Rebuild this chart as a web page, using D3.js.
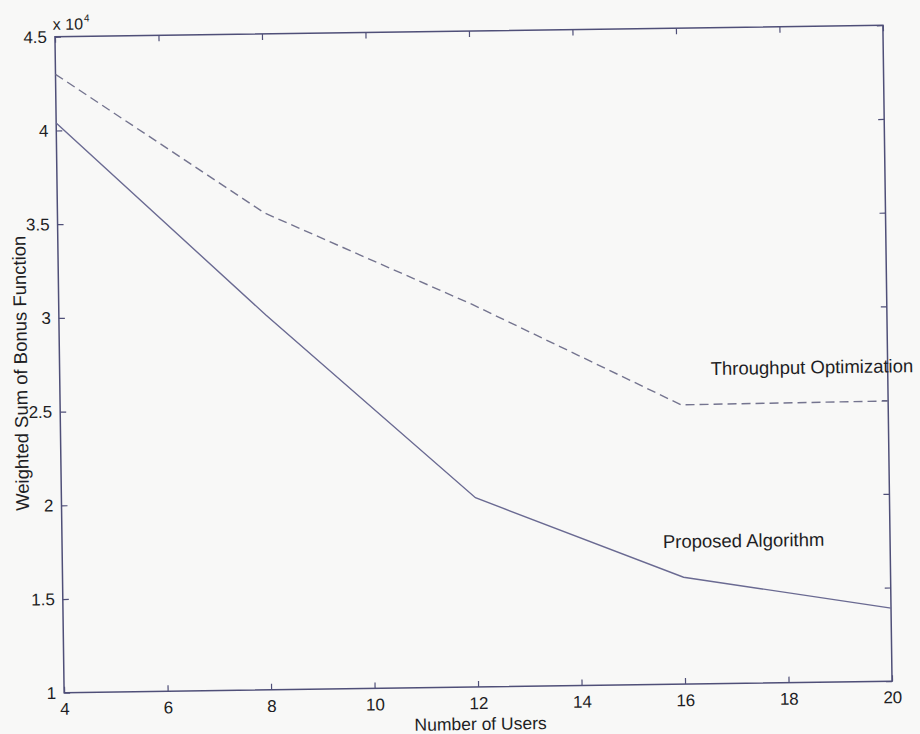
<!DOCTYPE html>
<html>
<head>
<meta charset="utf-8">
<script src="https://cdn.jsdelivr.net/npm/d3@7"></script>
<style>
  html, body { margin: 0; padding: 0; background: #f8f8f7; }
  svg { display: block; }
  text { font-family: "Liberation Sans", Arial, sans-serif; fill: #1e1e24; }
</style>
</head>
<body>
<svg id="chart" width="920" height="734"></svg>
<script>
// ---- data ----
const users = [4, 8, 12, 16, 20];
const proposed = [4.04, 3.00, 2.01, 1.57, 1.39];     // x 10^4
const throughput = [4.30, 3.545, 3.04, 2.49, 2.495]; // x 10^4
const xTicks = [4, 6, 8, 10, 12, 14, 16, 18, 20];
const yTicks = [1, 1.5, 2, 2.5, 3, 3.5, 4, 4.5];
const yTickLabels = ["1", "1.5", "2", "2.5", "3", "3.5", "4", "4.5"];

const W = 920, H = 734;
const M = { left: 59.5, right: 920 - 887.5, top: 31, bottom: 734 - 687 };
const svg = d3.select("#chart");
const root = svg.append("g").attr("transform", "rotate(-0.8, 473.5, 359)");

const x = d3.scaleLinear().domain([4, 20]).range([M.left, W - M.right]);
const y = d3.scaleLinear().domain([1, 4.5]).range([H - M.bottom, M.top]);

const axisColor = "#4f4f78";
const tickLen = 6;

// frame
root.append("rect")
  .attr("x", x(4)).attr("y", y(4.5))
  .attr("width", x(20) - x(4)).attr("height", y(1) - y(4.5))
  .attr("fill", "none").attr("stroke", axisColor).attr("stroke-width", 1.5);

function styleAxis(g) {
  g.select(".domain").remove();
  g.selectAll(".tick line").attr("stroke", axisColor).attr("stroke-width", 1.2);
  g.selectAll(".tick text").attr("font-size", 17)
    .style("font-family", '"Liberation Sans", Arial, sans-serif').attr("fill", "#1e1e24");
}

// bottom axis (ticks inward)
root.append("g").attr("transform", `translate(0,${y(1)})`)
  .call(d3.axisBottom(x).tickValues(xTicks).tickFormat(d3.format("d"))
    .tickSizeInner(-tickLen).tickSizeOuter(0).tickPadding(10))
  .call(styleAxis);
// top axis ticks
root.append("g").attr("transform", `translate(0,${y(4.5)})`)
  .call(d3.axisTop(x).tickValues(xTicks).tickFormat("")
    .tickSizeInner(-tickLen).tickSizeOuter(0))
  .call(styleAxis);
// left axis
root.append("g").attr("transform", `translate(${x(4)},0)`)
  .call(d3.axisLeft(y).tickValues(yTicks).tickFormat((d, i) => yTickLabels[i])
    .tickSizeInner(-tickLen).tickSizeOuter(0).tickPadding(8))
  .call(styleAxis);
// right axis ticks
root.append("g").attr("transform", `translate(${x(20)},0)`)
  .call(d3.axisRight(y).tickValues(yTicks).tickFormat("")
    .tickSizeInner(-tickLen).tickSizeOuter(0))
  .call(styleAxis);

// multiplier
const mult = root.append("text")
  .attr("x", x(4) - 2).attr("y", y(4.5) - 7)
  .attr("font-size", 16);
mult.append("tspan").text("x 10");
mult.append("tspan").attr("font-size", 10).attr("dy", -8).attr("dx", 1).text("4");

// lines
const line = d3.line().x((d, i) => x(users[i])).y(d => y(d));
root.append("path").datum(throughput)
  .attr("d", line).attr("fill", "none")
  .attr("stroke", "#74748f").attr("stroke-width", 1.4)
  .attr("stroke-dasharray", "9,5");
root.append("path").datum(proposed)
  .attr("d", line).attr("fill", "none")
  .attr("stroke", "#6a6a92").attr("stroke-width", 1.4);

// annotations
root.append("text").attr("x", x(16.58)).attr("y", y(2.647))
  .attr("font-size", 18.5).text("Throughput Optimization");
root.append("text").attr("x", x(15.61)).attr("y", y(1.727))
  .attr("font-size", 18.5).text("Proposed Algorithm");

// axis titles
root.append("text")
  .attr("x", (x(4) + x(20)) / 2 + 2).attr("y", y(1) + 43)
  .attr("text-anchor", "middle").attr("font-size", 17.5)
  .text("Number of Users");
root.append("text")
  .attr("transform", `translate(27,${(y(1) + y(4.5)) / 2 + 8}) rotate(-90)`)
  .attr("text-anchor", "middle").attr("font-size", 18.5)
  .text("Weighted Sum of Bonus Function");
</script>
</body>
</html>
